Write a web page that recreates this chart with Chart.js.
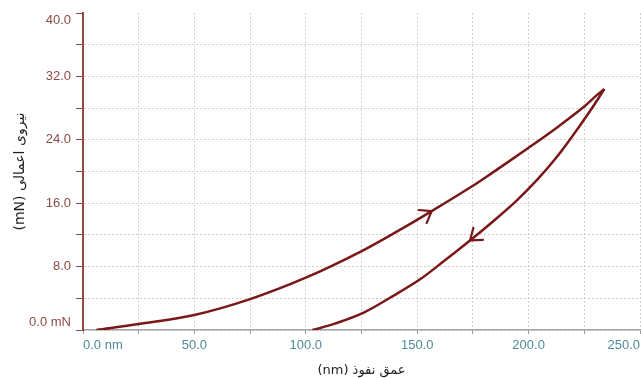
<!DOCTYPE html>
<html lang="fa">
<head>
<meta charset="utf-8">
<title>منحنی نیرو - عمق نفوذ</title>
<script src="https://cdn.jsdelivr.net/npm/chart.js@4/dist/chart.umd.min.js"></script>
<style>
    html, body { margin: 0; padding: 0; background: #ffffff; }
    #wrap { width: 641px; height: 378px; }
    canvas { display: block; background: #ffffff; }
</style>
</head>
<body>
<div id="wrap"><canvas id="forceChart" width="641" height="378"></canvas></div>
<script>
// Loading branch (depth in nm, force in mN)
const loadDepth = [6, 25, 50, 75, 100, 124, 142, 156.5, 175, 183, 200, 212.5, 225, 230.5, 234];
const loadForce = [0, 0.75, 1.9, 3.9, 6.6, 9.8, 12.6, 15.0, 18.2, 19.7, 23.0, 25.5, 28.2, 29.6, 30.4];

// Unloading branch, listed from the peak back down
const unloadDepth = [234, 227.5, 219.5, 212, 204, 194.5, 184, 173.7, 162, 151.3, 138, 126, 113, 103];
const unloadForce = [30.4, 27.6, 24.4, 21.6, 19.0, 16.3, 13.7, 11.3, 8.7, 6.4, 4.1, 2.2, 0.8, 0];

// Index of the point on each branch that carries a direction arrow
const arrowIndex = [7, 7];

const xTicks = { min: 0, max: 250, step: 25, labelEvery: 50 };
const yTicks = { min: 0, max: 40, step: 4, labelEvery: 8 };

const xTitle = '\u202Bعمق نفوذ (nm)\u202C';
const yTitle = '\u202Bنیروی اعمالی (mN)\u202C';

const curveColor = '#781818';
const gridColor = '#cfcfcf';

document.addEventListener('DOMContentLoaded', function() {

    function toPoints(xs, ys) {
        return xs.map((x, i) => ({ x: x, y: ys[i] }));
    }

    // small open chevrons showing the loading / unloading direction
    const arrowPlugin = {
        id: 'arrowHeads',
        afterDatasetsDraw(chart) {
            const ctx = chart.ctx;
            chart.data.datasets.forEach((ds, d) => {
                const idx = arrowIndex[d];
                const pts = chart.getDatasetMeta(d).data;
                if (!pts[idx] || !pts[idx - 1]) return;
                const tip = pts[idx];
                const prev = pts[idx - 1];
                const next = pts[idx + 1] || tip;
                const ang = Math.atan2(next.y - prev.y, next.x - prev.x);
                const len = 13, spread = Math.PI / 5;
                ctx.save();
                ctx.strokeStyle = curveColor;
                ctx.lineWidth = 2.2;
                ctx.lineCap = 'round';
                ctx.lineJoin = 'round';
                ctx.beginPath();
                ctx.moveTo(tip.x - len * Math.cos(ang - spread), tip.y - len * Math.sin(ang - spread));
                ctx.lineTo(tip.x, tip.y);
                ctx.lineTo(tip.x - len * Math.cos(ang + spread), tip.y - len * Math.sin(ang + spread));
                ctx.stroke();
                ctx.restore();
            });
        }
    };

    function drawChart() {
        const ctx = document.getElementById('forceChart').getContext('2d');
        new Chart(ctx, {
            type: 'scatter',
            data: {
                datasets: [{
                    label: 'loading',
                    data: toPoints(loadDepth, loadForce),
                    showLine: true,
                    borderColor: curveColor,
                    borderWidth: 2.5,
                    pointRadius: 0,
                    tension: 0.35
                }, {
                    label: 'unloading',
                    data: toPoints(unloadDepth, unloadForce),
                    showLine: true,
                    borderColor: curveColor,
                    borderWidth: 2.5,
                    pointRadius: 0,
                    tension: 0.35
                }]
            },
            options: {
                responsive: false,
                animation: false,
                layout: { padding: { top: 13, right: 1, left: 0, bottom: 0 } },
                plugins: {
                    legend: { display: false },
                    tooltip: { enabled: false }
                },
                scales: {
                    x: {
                        type: 'linear',
                        min: xTicks.min,
                        max: xTicks.max,
                        afterFit: function(scale) {
                            scale.height = 48;
                            scale.paddingLeft = 0;
                            scale.paddingRight = 0;
                        },
                        border: { color: '#a4a4a4', width: 1.5, dash: [2, 2] },
                        grid: {
                            color: gridColor,
                            lineWidth: 1,
                            tickLength: 4,
                            tickColor: '#9a9a9a',
                            tickBorderDash: []
                        },
                        ticks: {
                            stepSize: xTicks.step,
                            autoSkip: false,
                            maxRotation: 0,
                            align: 'inner',
                            padding: 4,
                            color: '#4f8b9a',
                            font: { family: "'Liberation Sans', Arial, sans-serif", size: 13 },
                            callback: function(value) {
                                if (value % xTicks.labelEvery !== 0) return '';
                                if (value === 0) return '0.0 nm';
                                return value.toFixed(1);
                            }
                        },
                        title: {
                            display: true,
                            text: xTitle,
                            color: '#1e1e1e',
                            padding: { top: 0, bottom: 0 },
                            font: { family: "'DejaVu Sans', sans-serif", size: 13 }
                        }
                    },
                    y: {
                        type: 'linear',
                        min: yTicks.min,
                        max: yTicks.max,
                        afterFit: function(scale) {
                            scale.width = 83;
                            scale.paddingTop = 0;
                            scale.paddingBottom = 0;
                        },
                        border: { color: '#8d4a42', width: 2, dash: [2, 2] },
                        grid: {
                            color: function(c) {
                                return c.tick && c.tick.value === yTicks.max ? 'rgba(0,0,0,0)' : gridColor;
                            },
                            lineWidth: 1,
                            tickLength: 7,
                            tickColor: '#8d4a42',
                            tickBorderDash: []
                        },
                        ticks: {
                            stepSize: yTicks.step,
                            autoSkip: false,
                            padding: 5,
                            color: '#8c4b45',
                            font: { family: "'Liberation Sans', Arial, sans-serif", size: 13 },
                            callback: function(value) {
                                if (value % yTicks.labelEvery !== 0) return '';
                                // end labels sit inside the axis span
                                if (value === yTicks.min) return ['0.0 mN', ''];
                                if (value === yTicks.max) return ['', value.toFixed(1)];
                                return value.toFixed(1);
                            }
                        },
                        title: {
                            display: true,
                            text: yTitle,
                            color: '#1e1e1e',
                            padding: { top: 12, bottom: 0 },
                            font: { family: "'DejaVu Sans', sans-serif", size: 14 }
                        }
                    }
                }
            },
            plugins: [arrowPlugin]
        });
    }

    drawChart();
});
</script>
</body>
</html>
